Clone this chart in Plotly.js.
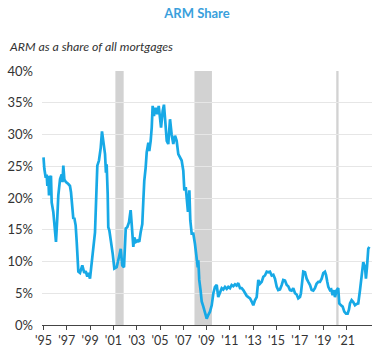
<!DOCTYPE html>
<html>
<head>
<meta charset="utf-8">
<script src="https://cdn.plot.ly/plotly-3.0.1.min.js"></script>
<style>html,body{margin:0;padding:0;background:#fff;}#chart{width:378px;height:360px;}</style>
</head>
<body>
<div id="chart"></div>
<script>
// Data (decimal year, ARM share %)
const years = [
1995.00,1995.07,1995.19,1995.27,1995.33,1995.41,1995.47,1995.56,1995.64,1995.70,1995.84,1995.99,
1996.07,1996.18,1996.27,1996.42,1996.56,1996.63,1996.70,1996.79,1996.93,
1997.13,1997.27,1997.36,1997.47,1997.56,1997.64,1997.76,1997.85,1997.99,
1998.13,1998.33,1998.50,1998.62,1998.76,1998.85,1998.99,
1999.14,1999.27,1999.42,1999.53,1999.62,1999.76,1999.91,
2000.02,2000.13,2000.28,2000.36,2000.42,2000.51,2000.56,2000.65,2000.79,2000.94,
2001.08,2001.28,2001.48,2001.63,2001.76,2001.91,
2002.06,2002.19,2002.34,2002.48,2002.57,2002.71,2002.79,2002.94,
2003.09,2003.22,2003.34,2003.48,2003.57,2003.65,2003.77,2003.86,
2004.00,2004.08,2004.20,2004.29,2004.37,2004.48,2004.63,2004.77,2004.89,
2005.00,2005.09,2005.23,2005.34,2005.43,2005.58,2005.71,2005.86,
2006.00,2006.14,2006.29,2006.43,2006.57,2006.72,2006.86,
2007.00,2007.09,2007.21,2007.32,2007.40,2007.52,2007.60,2007.72,2007.86,
2008.00,2008.24,2008.29,2008.37,2008.48,2008.58,2008.72,2008.86,
2009.01,2009.15,2009.29,2009.44,2009.58,2009.72,2009.87,
2010.00,2010.15,2010.30,2010.43,2010.58,2010.73,2010.86,
2011.01,2011.15,2011.29,2011.44,2011.58,2011.72,2011.87,
2012.01,2012.15,2012.30,2012.44,2012.58,2012.73,2012.87,
2013.01,2013.15,2013.30,2013.44,2013.58,2013.73,2013.87,
2014.01,2014.16,2014.30,2014.44,2014.59,2014.73,2014.87,
2015.02,2015.15,2015.30,2015.45,2015.58,2015.73,2015.88,
2016.01,2016.16,2016.30,2016.44,2016.59,2016.73,2016.87,
2017.02,2017.10,2017.19,2017.30,2017.45,2017.59,2017.73,2017.88,
2018.02,2018.16,2018.30,2018.44,2018.59,2018.73,2018.88,
2019.02,2019.16,2019.25,2019.36,2019.45,2019.59,2019.70,2019.82,2019.94,
2020.02,2020.17,2020.30,2020.39,2020.54,2020.68,2020.82,2020.97,
2021.11,2021.22,2021.31,2021.45,2021.59,2021.74,2021.88,
2022.02,2022.17,2022.31,2022.45,2022.60,2022.68,2022.77,2022.88,2022.97
];
const armShare = [
26.4,24.6,23.2,23.7,21.9,23.5,20.4,23.2,23.5,19.3,17.8,13.6,
13.1,16.8,20.4,23.0,23.7,22.5,25.1,22.9,22.5,
22.2,21.9,20.9,19.0,16.7,16.9,15.7,13.1,8.4,
8.2,9.4,8.2,8.5,7.6,8.2,7.3,
9.9,12.0,14.6,20.4,25.1,25.9,27.9,
30.5,28.5,26.9,24.0,25.3,20.6,15.4,14.9,13.3,11.2,
8.9,9.1,10.7,12.0,9.4,9.1,
15.2,15.4,16.2,18.1,15.9,12.3,13.8,13.1,
13.3,13.1,14.6,15.9,19.6,22.7,24.8,27.2,
28.7,27.4,29.0,31.1,34.5,32.9,34.2,33.2,34.5,
32.6,31.1,33.7,34.7,32.6,29.0,28.5,32.4,
30.0,28.5,29.8,29.0,26.9,26.4,25.9,
24.3,21.2,21.7,19.6,17.8,21.2,16.5,14.4,14.4,
12.8,9.1,10.2,7.1,5.5,3.7,2.9,2.1,
1.0,1.6,2.1,3.1,5.0,6.0,6.3,
4.4,5.2,5.8,5.6,6.0,5.7,6.0,
5.8,6.3,6.1,6.4,6.2,6.6,5.8,
5.8,5.5,5.0,4.6,4.4,4.2,3.7,
3.1,3.9,4.4,7.1,6.5,6.8,7.6,
7.8,8.4,8.3,8.4,7.8,7.9,7.3,
6.0,5.5,5.6,6.3,7.1,7.0,6.3,
6.1,5.5,5.4,5.8,5.0,4.8,4.2,
4.4,5.0,7.1,8.4,8.3,7.3,6.8,6.3,
5.5,5.4,5.8,6.5,6.8,6.8,7.3,
8.2,8.4,7.9,6.8,6.0,5.5,5.6,4.7,5.5,
4.4,5.5,5.8,3.4,3.1,2.9,2.1,1.8,
1.8,2.4,3.4,3.9,3.6,3.1,3.3,
3.4,5.5,7.3,9.9,9.1,7.3,9.1,12.0,12.3
];
const recessionStart = [2001.17, 2007.96, 2020.13];
const recessionEnd   = [2001.88, 2009.46, 2020.33];
const xTickVals = [1995,1997,1999,2001,2003,2005,2007,2009,2011,2013,2015,2017,2019,2021];
const xTickText = ["'95","'97","'99","'01","'03","'05","'07","'09","'11","'13","'15","'17","'19","'21"];
const yTickVals = [0,5,10,15,20,25,30,35,40];
const yTickText = ["0%","5%","10%","15%","20%","25%","30%","35%","40%"];

const shapes = recessionStart.map((s, i) => ({
  type: 'rect', xref: 'x', yref: 'paper', x0: s, x1: recessionEnd[i], y0: 0, y1: 1,
  fillcolor: '#d2d2d2', line: {width: 0}, layer: 'below'
}));

const trace = {
  x: years, y: armShare, type: 'scatter', mode: 'lines',
  line: {color: '#17a9e6', width: 2.7}, hoverinfo: 'skip'
};

const layout = {
  width: 378, height: 360,
  margin: {l: 42, r: 6, t: 71, b: 35},
  paper_bgcolor: '#ffffff', plot_bgcolor: '#ffffff',
  showlegend: false,
  font: {family: 'Lato, "Open Sans", sans-serif', color: '#333333', size: 12},
  title: {
    text: '<b>ARM Share</b>',
    font: {family: 'Lato, sans-serif', size: 13, color: '#3a9fdc'},
    x: 197/378, xanchor: 'center', xref: 'container',
    y: 1 - 13/360, yanchor: 'middle', yref: 'container'
  },
  annotations: [{
    text: '<i>ARM as a share of all mortgages</i>',
    xref: 'paper', yref: 'paper',
    x: (7 - 42) / 330, y: (325 - 47) / 254,
    xanchor: 'left', yanchor: 'middle', showarrow: false,
    font: {family: 'Lato, sans-serif', size: 12.3, color: '#333333'}
  }],
  shapes: shapes,
  xaxis: {
    range: [1994.87, 2023.2],
    tickvals: xTickVals, ticktext: xTickText,
    ticks: 'outside', ticklen: 4, tickwidth: 1, tickcolor: '#444444',
    showline: true, linecolor: '#444444', linewidth: 1,
    showgrid: false, zeroline: false,
    tickfont: {family: 'Lato, sans-serif', size: 12.5, color: '#333333'}
  },
  yaxis: {
    range: [0, 40],
    tickvals: yTickVals, ticktext: yTickText,
    showgrid: true, gridcolor: '#e6e6e6', gridwidth: 1,
    zeroline: false, showline: false, ticks: '',
    ticklabelstandoff: 8,
    tickfont: {family: 'Lato, sans-serif', size: 13, color: '#333333'}
  }
};

Plotly.newPlot('chart', [trace], layout, {staticPlot: true, displayModeBar: false});
</script>
</body>
</html>
